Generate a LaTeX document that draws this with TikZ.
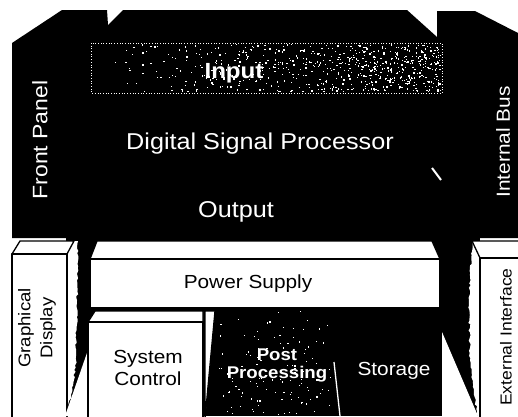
\documentclass[tikz,border=0pt]{standalone}
\usepackage{fontspec}
\setmainfont{Liberation Sans}[FakeStretch=1.1]
\usetikzlibrary{decorations.pathmorphing}

\tikzset{
  face/.style={fill=white, draw=black, line width=1.3bp, line join=round},
  wlbl/.style={text=white, inner sep=0pt, align=center, font=\fontsize{23}{26}\selectfont},
  blbl/.style={text=black, inner sep=0pt, align=center, font=\fontsize{19}{23}\selectfont},
  rough/.style={decorate, decoration={random steps, segment length=2.5bp, amplitude=1bp}},
}

\begin{document}
\begin{tikzpicture}[x=1bp, y=-1bp]
			%%%%% START %%%%%
			\useasboundingbox (0,0) rectangle (518,416);
			\fill[white] (0,0) rectangle (518,416);
			\pgfmathsetseed{42}
			
			\fill[black] (12,43) -- (62,10) -- (107,10) -- (108,25) -- (123,10) -- (407,10) -- (437,37) -- (437,11) -- (475,11) -- (518,33) -- (518,238) -- (12,238) -- cycle;
			\fill[black] (66,236) rectangle (480,416);
			
			\fill[black] (91,43) rectangle (442,93);
			\foreach \i in {1,...,650} {
				\pgfmathsetmacro{\px}{91+349*pow(rnd,0.45)}
				\pgfmathsetmacro{\py}{44+47*rnd}
				\fill[white] (\px,\py) rectangle ++(1.3,1.3);
			}
			\draw[white, dotted, line width=0.7bp] (91,43) rectangle (442,93);
			\draw[white, line width=2bp] (432,168) -- (441,180);
			
			\fill[white] (67,254) -- (74,241) -- (78,241) decorate[rough]{-- (77,300) -- (76,360) -- (72,392) -- (66,416)} -- (67,416) -- cycle;
			\draw[face] (12,254) -- (20,241) -- (74,241) -- (67,254) -- cycle;
			\draw[face] (12,254) rectangle (67,419);
			\fill[white] (88,350) -- (88,416) -- (65,416) -- cycle;
			
			\draw[face] (90,259) -- (97,241) -- (432,241) -- (440,259) -- cycle;
			\draw[face] (90,259) rectangle (440,308);
			
			\draw[face] (88,322) -- (95,311) -- (203,311) -- (203,322) -- cycle;
			\draw[face] (88,322) rectangle (203,419);
			\draw[face] (205,311) -- (215,311) -- (205,419) -- cycle;
			
			\foreach \i in {1,...,120} {
				\pgfmathsetmacro{\px}{219+112*rnd}
				\pgfmathsetmacro{\py}{310+104*rnd}
				\fill[white] (\px,\py) rectangle ++(1.2,1.2);
			}
			\draw[white, line width=1.3bp] (334,362) -- (340,416);
			
			\fill[white] (442,332) -- (442,416) -- (478,416) -- cycle;
			\fill[white] (472,241) decorate[rough]{-- (469,300) -- (470,360) -- (474,395) -- (478,416)} -- (480,416) -- (480,258) -- cycle;
			\draw[face] (472,241) -- (521,241) -- (521,258) -- (480,258) -- cycle;
			\draw[face] (480,258) rectangle (521,419);
			
			\node[wlbl, rotate=90, font=\fontsize{21}{24}\selectfont] (front) at (40,140) {Front Panel};
			\node[wlbl, font=\fontsize{22}{24}\selectfont\bfseries] (input) at (234,73) {Input};
			\node[wlbl] (dsp) at (260,144) {Digital Signal Processor};
			\node[wlbl] (output) at (236,212) {Output};
			\node[wlbl, rotate=90, font=\fontsize{19}{22}\selectfont] (bus) at (503,142) {Internal Bus};
			
			\node[blbl] (power) at (248,284) {Power Supply};
			\node[blbl, rotate=90, font=\fontsize{17}{22}\selectfont] (graph) at (37,328) {Graphical\\Display};
			\node[blbl] (sysctl) at (148,368) {System\\Control};
			\node[wlbl, font=\fontsize{17}{18}\selectfont\bfseries] (post) at (277,365) {Post\\Processing};
			\node[wlbl, font=\fontsize{19}{22}\selectfont] (storage) at (394,371) {Storage};
			\node[blbl, rotate=90, font=\fontsize{16}{20}\selectfont] (ext) at (506,337) {External Interface};
			%%%%% END %%%%%
		\end{tikzpicture}
\end{document}
